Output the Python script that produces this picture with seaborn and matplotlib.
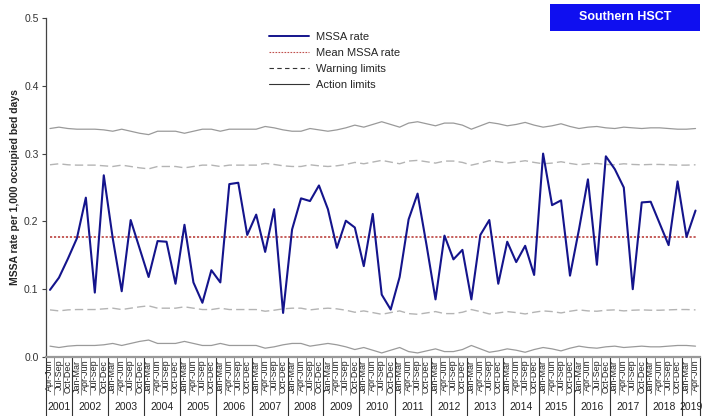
import numpy as np
import pandas as pd
import matplotlib
matplotlib.use("Agg")
import matplotlib.pyplot as plt
import seaborn as sns
from matplotlib.lines import Line2D
from matplotlib.patches import Rectangle
from matplotlib.ticker import FormatStrFormatter

# ---------------- data ----------------
quarters = (["Apr-Jun", "Jul-Sep", "Oct-Dec"]
            + ["Jan-Mar", "Apr-Jun", "Jul-Sep", "Oct-Dec"] * 17
            + ["Jan-Mar", "Apr-Jun"])
years = [str(y) for y in range(2001, 2020)]
year_quarter_counts = [3] + [4] * 17 + [2]

mssa_rate = [0.099, 0.117, 0.145, 0.175, 0.235, 0.095, 0.268, 0.175, 0.097, 0.202,
             0.160, 0.118, 0.171, 0.170, 0.108, 0.195, 0.110, 0.080, 0.128, 0.110,
             0.255, 0.257, 0.180, 0.210, 0.155, 0.218, 0.065, 0.188, 0.234, 0.230,
             0.253, 0.218, 0.161, 0.201, 0.191, 0.134, 0.211, 0.092, 0.070, 0.118,
             0.203, 0.241, 0.165, 0.085, 0.179, 0.144, 0.158, 0.085, 0.180, 0.202,
             0.108, 0.170, 0.140, 0.164, 0.121, 0.300, 0.224, 0.231, 0.120, 0.188,
             0.262, 0.136, 0.296, 0.277, 0.250, 0.100, 0.228, 0.229, 0.197, 0.165,
             0.259, 0.177, 0.216]

mean_rate = 0.1765

action_upper = [.337, .339, .337, .336, .336, .336, .335, .333, .336, .333,
                .330, .328, .333, .333, .333, .330, .333, .336, .336, .333,
                .336, .336, .336, .336, .340, .338, .335, .333, .333, .337,
                .335, .333, .335, .338, .342, .339, .343, .347, .343, .339,
                .345, .347, .344, .341, .345, .345, .342, .336, .341, .346,
                .344, .341, .343, .346, .342, .339, .341, .344, .340, .337,
                .339, .340, .338, .337, .339, .338, .337, .338, .338, .337,
                .336, .336, .337]

warning_upper = [.2835, .285, .2835, .283, .283, .283, .282, .281, .283, .281,
                 .279, .2775, .281, .281, .281, .279, .281, .283, .283, .281,
                 .283, .283, .283, .283, .2855, .284, .282, .281, .281, .2835,
                 .282, .281, .282, .284, .287, .285, .2875, .290, .2875, .285,
                 .289, .290, .288, .286, .289, .289, .287, .283, .286, .2895,
                 .288, .286, .2875, .2895, .287, .285, .286, .288, .2855, .2835,
                 .285, .2855, .284, .2835, .285, .284, .2835, .284, .284, .2835,
                 .283, .283, .2835]

warning_lower = [.0695, .068, .0695, .070, .070, .070, .071, .072, .070, .072,
                 .074, .0755, .072, .072, .072, .074, .072, .070, .070, .072,
                 .070, .070, .070, .070, .0675, .069, .071, .072, .072, .0695,
                 .071, .072, .071, .069, .066, .068, .0655, .063, .0655, .068,
                 .064, .063, .065, .067, .064, .064, .066, .070, .067, .0635,
                 .065, .067, .0655, .0635, .066, .068, .067, .065, .0675, .0695,
                 .068, .0675, .069, .0695, .068, .069, .0695, .069, .069, .0695,
                 .070, .070, .0695]

action_lower = [.016, .014, .016, .017, .017, .017, .018, .020, .017, .020,
                .023, .025, .020, .020, .020, .023, .020, .017, .017, .020,
                .017, .017, .017, .017, .013, .015, .018, .020, .020, .016,
                .018, .020, .018, .015, .011, .014, .010, .006, .010, .014,
                .008, .006, .009, .012, .008, .008, .011, .017, .012, .007,
                .009, .012, .010, .007, .011, .014, .012, .009, .013, .016,
                .014, .013, .015, .016, .014, .015, .016, .015, .015, .016,
                .017, .017, .016]

legend_labels = ["MSSA rate", "Mean MSSA rate", "Warning limits", "Action limits"]
title_text = "Southern HSCT"
ylabel_text = "MSSA rate per 1,000 occupied bed days"

# ---------------- plotting ----------------
sns.set_style("white")
plt.rcParams['font.family'] = ['Liberation Sans', 'DejaVu Sans']

pos = np.arange(len(quarters))
df = pd.DataFrame({
    "pos": pos,
    "rate": mssa_rate,
    "mean": [mean_rate] * len(pos),
    "au": action_upper, "wu": warning_upper,
    "wl": warning_lower, "al": action_lower,
})

W, H = 702, 416
fig = plt.figure(figsize=(W / 100, H / 100), dpi=100)
ax = fig.add_axes([45.5 / W, 59 / H, 654.5 / W, 339 / H])

sns.lineplot(data=df, x="pos", y="au", ax=ax, color="#9a9a9a", linewidth=0.9)
sns.lineplot(data=df, x="pos", y="al", ax=ax, color="#9a9a9a", linewidth=0.9)
sns.lineplot(data=df, x="pos", y="wu", ax=ax, color="#b4b4b4", linewidth=1.0)
sns.lineplot(data=df, x="pos", y="wl", ax=ax, color="#b4b4b4", linewidth=1.0)
for l in ax.lines[2:4]:
    l.set_dashes((6, 3))
sns.lineplot(data=df, x="pos", y="mean", ax=ax, color="#c0504d", linewidth=1.3)
ax.lines[4].set_dashes((1.2, 1.0))
sns.lineplot(data=df, x="pos", y="rate", ax=ax, color="#14148c", linewidth=1.5)

ax.set_xlim(-0.5, len(pos) - 0.5)
ax.set_ylim(0, 0.5)
ax.set_yticks(np.arange(0, 0.51, 0.1))
ax.yaxis.set_major_formatter(FormatStrFormatter("%.1f"))
ax.tick_params(axis="y", labelsize=7.5, length=3, width=0.8, color="#444444",
               left=True, pad=2, labelcolor="#333333")

ax.set_xticks(pos)
ax.set_xticklabels(quarters, rotation=90, fontsize=6.5)
ax.tick_params(axis="x", which="major", length=0, pad=2, labelcolor="#222222")
ax.set_xticks(np.arange(-0.5, len(pos), 1.0), minor=True)
ax.tick_params(axis="x", which="minor", length=27, width=0.7, color="#8a8a8a",
               direction="out", bottom=True)
ax.set_xlabel("")

ax.set_ylabel(ylabel_text, fontsize=7.5, fontweight="bold")
ax.yaxis.set_label_coords(-25 / 654.5, 0.5)

for s in ["top", "right"]:
    ax.spines[s].set_visible(False)
ax.spines["left"].set_color("#444444")
ax.spines["left"].set_linewidth(0.9)
ax.spines["bottom"].set_color("#999999")
ax.spines["bottom"].set_linewidth(1.6)

# year separators and labels
trans = ax.get_xaxis_transform()
bnds = [-0.5]
for c in year_quarter_counts:
    bnds.append(bnds[-1] + c)
for b in bnds:
    ax.add_line(Line2D([b, b], [0, -59 / 339], transform=trans, color="#333333",
                       linewidth=0.8, clip_on=False))
for i, yr in enumerate(years):
    ax.text((bnds[i] + bnds[i + 1]) / 2, -50 / 339, yr, transform=trans,
            ha="center", va="center", fontsize=7.5, color="#222222")

# legend
handles = [Line2D([], [], color="#14148c", linewidth=1.4),
           Line2D([], [], color="#c0504d", linewidth=0.8, dashes=(1.5, 1.2)),
           Line2D([], [], color="#333333", linewidth=0.8, dashes=(4, 3)),
           Line2D([], [], color="#333333", linewidth=0.8)]
fig.legend(handles, legend_labels, loc="upper left",
           bbox_to_anchor=(269 / W, 1 - 32 / H), frameon=False, fontsize=8,
           handlelength=3.6, handletextpad=0.6, labelspacing=0.55,
           borderpad=0, borderaxespad=0)

# title box
fig.patches.append(Rectangle((550 / W, 1 - 31 / H), 150 / W, 27 / H,
                             transform=fig.transFigure, facecolor="#0f0ff0",
                             edgecolor="none"))
fig.text(625 / W, 1 - 17.5 / H, title_text, color="white", fontsize=9,
         fontweight="bold", ha="center", va="center")

fig.savefig("out.png", dpi=100)
